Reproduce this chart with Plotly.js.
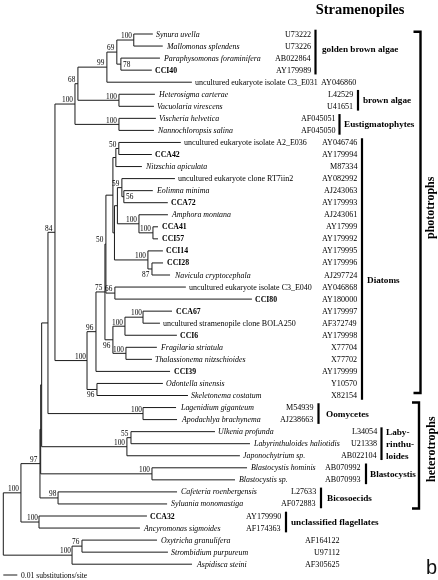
<!DOCTYPE html>
<html><head><meta charset="utf-8">
<script src="https://cdn.plot.ly/plotly-3.0.1.min.js"></script>
<style>html,body{margin:0;padding:0;background:#fff}#chart{width:438px;height:580px}
#chart svg.main-svg{will-change:transform}</style>
</head><body><div id="chart"></div>
<script>
// ---------------- DATA ----------------
const taxa = [
 'Synura uvella','Mallomonas splendens','Paraphysomonas foraminifera','CCI40',
 'uncultured eukaryote isolate C3_E031','Heterosigma carterae','Vacuolaria virescens',
 'Vischeria helvetica','Nannochloropsis salina','uncultured eukaryote isolate A2_E036',
 'CCA42','Nitzschia apiculata','uncultured eukaryote clone RT7iin2','Eolimna minima',
 'CCA72','Amphora montana','CCA41','CCI57','CCI14','CCI28','Navicula cryptocephala',
 'uncultured eukaryote isolate C3_E040','CCI80','CCA67','uncultured stramenopile clone BOLA250',
 'CCI6','Fragilaria striatula','Thalassionema nitzschioides','CCI39','Odontella sinensis',
 'Skeletonema costatum','Lagenidium giganteum','Apodachlya brachynema','Ulkenia profunda',
 'Labyrinthuloides haliotidis','Japonochytrium sp.','Blastocystis hominis','Blastocystis sp.',
 'Cafeteria roenbergensis','Syluania monomastiga','CCA32','Ancyromonas sigmoides',
 'Oxytricha granulifera','Strombidium purpureum','Aspidisca steini'
];
const accessions = [
 'U73222','U73226','AB022864','AY179989','AY046860','L42529','U41651','AF045051','AF045050',
 'AY046746','AY179994','M87334','AY082992','AJ243063','AY179993','AJ243061','AY17999',
 'AY179992','AY179995','AY179996','AJ297724','AY046868','AY180000','AY179997','AF372749',
 'AY179998','X77704','X77702','AY179999','Y10570','X82154','M54939','AJ238663','L34054',
 'U21338','AB022104','AB070992','AB070993','L27633','AF072883','AY179990','AF174363',
 'AF164122','U97112','AF305625'
];
// species = described species, clone = isolates of this study, env = environmental sequences
const taxonKind = [
 'species','species','species','clone','env','species','species','species','species','env',
 'clone','species','env','species','clone','species','clone','clone','clone','clone','species',
 'env','clone','clone','env','clone','species','species','clone','species','species','species',
 'species','species','species','species','species','species','species','species','clone',
 'species','species','species','species'
];
// leaves are indices into taxa; internal labels are bootstrap values; lengths in substitutions/site
const treeNewick = `(
 (
  (
   (
    (
     (
      (
       (
        (
         (
          ((0:0.0136,1:0.0207)100:0.0121,(2:0.0279,3:0.0221)78:0.0029)69:0.0071,
          4:0.0607
         )99:0.0207,
         (5:0.0257,6:0.0250)100:0.0293
        )68:0.0021,
        (7:0.0264,8:0.0250)100:0.0314
       )100:0.0143,
       (
        (
         (
          (
           (
            ((9:0.0443,10:0.0236)50:0.0021,11:0.0186):0.0021,
            (
             (
              (12:0.0379,(13:0.0207,14:0.0314)56:0.0014)59:0.0032,
              (15:0.0207,(16:0.0036,17:0.0036)100:0.0100)100:0.0154
             ):0.0021,
             (18:0.0107,(19:0.0079,20:0.0129)87:0.0029)100:0.0239
            ):0.0011
           ):0.0050,
           (21:0.0507,22:0.0979)66:0.0064
          )50:0.0007,
          (
           ((23:0.0207,24:0.0121)100:0.0129,25:0.0371)100:0.0086,
           (26:0.0221,27:0.0186)100:0.0093
          )96:0.0057
         )75:0.0064,
         28:0.0529
        )96:0.0064,
        (29:0.0471,30:0.0650)96:0.0071
       )100:0.0229
      )84:0.0050,
      (31:0.0236,32:0.0243)100:0.0679
     ):0.0045,
     ((33:0.0600,34:0.0850)55:0.0029,35:0.0807)100:0.0609
    ):0.0007,
    (36:0.0679,37:0.0593)100:0.0795
   ):0.0005,
   (38:0.0850,39:0.0779)98:0.0129
  )97:0.0136,
  (40:0.0771,41:0.0721)100:0.0129
 )100:0.0126,
 ((42:0.0536,43:0.0614)76:0.0071,44:0.0857)100:0.0491
);`;
const cladeNames = ['golden brown algae','brown algae','Eustigmatophytes','Diatoms','Oomycetes',
 'Laby-<br>rinthu-<br>loides','Blastocystis','Bicosoecids','unclassified flagellates'];
const trophicNames = ['phototrophs','heterotrophs'];
const chartTitle = 'Stramenopiles';
const scaleBarLength = 0.01;
const scaleBarLabel = '0.01 substitutions/site';
const panelLetter = 'b';

// ---------------- LAYOUT CONSTANTS ----------------
const W = 438, H = 580;
const PPU = 1400;      // pixels per substitution/site
const ROOT_PX = 3.3;   // pixel x of the root
const TOP_PX = 34;     // pixel y of first leaf
const ROW_PX = 12.05;  // pixel spacing of leaves
const xPx = px => (px - ROOT_PX) / PPU;
const yPx = py => (py - TOP_PX) / ROW_PX;
const dx = px => px / PPU;
const dy = py => py / ROW_PX;
const SERIF = 'Liberation Serif, Times New Roman, serif';
const FONT_SIZE = {species:7.9, clone:7.8, env:8.0, acc:8.1, support:7.3, clade:9.2};

// accession column (right edge px) and clade bracket per leaf range
const cladeLayout = [
 {first:0, last:3, acc:312, bar:315.5, name:0, lx:321, ly:1.25},
 {first:4, last:4, acc:357},
 {first:5, last:6, acc:354, bar:358, name:1, lx:362},
 {first:7, last:8, acc:336.5, bar:339.5, name:2, lx:343},
 {first:9, last:30, acc:358, bar:362, name:3, lx:366, ly:20.4},
 {first:31, last:32, acc:314, bar:318.5, name:4, lx:325},
 {first:33, last:35, acc:378, bar:381.5, name:5, lx:385},
 {first:36, last:37, acc:362, bar:366, name:6, lx:368.5},
 {first:38, last:39, acc:316.5, bar:321, name:7, lx:326},
 {first:40, last:41, acc:282, bar:286, name:8, lx:290},
 {first:42, last:44, acc:340.5}
];
// bootstrap label placement exceptions (keyed by first-last leaf)
const supportPlacement = {'2-3':'right','13-14':'right','19-20':'below','23-27':'below','29-30':'below'};

// ---------------- TREE ----------------
function parseNewick(str){
  const s = str.replace(/\s+/g,'');
  let i = 0;
  function node(){
    const n = {children:[]};
    if (s[i] === '('){
      i++;
      n.children.push(node());
      while (s[i] === ','){ i++; n.children.push(node()); }
      i++;
    }
    let lab = '';
    while (i < s.length && !':,();'.includes(s[i])) lab += s[i++];
    n.len = 0;
    if (s[i] === ':'){
      i++; let num = '';
      while (i < s.length && !',();'.includes(s[i])) num += s[i++];
      n.len = parseFloat(num);
    }
    if (n.children.length) n.support = lab; else n.leaf = parseInt(lab, 10);
    return n;
  }
  return node();
}
function place(n, x){
  n.x = x + n.len;
  if (n.children.length){
    n.children.forEach(c => place(c, n.x));
    const a = n.children[0], b = n.children[n.children.length-1];
    n.y = (a.y + b.y) / 2; n.first = a.first; n.last = b.last;
  } else { n.y = n.leaf; n.first = n.last = n.leaf; }
}
const root = parseNewick(treeNewick);
root.len = 0;
place(root, 0);

const lx = [], ly = [];
const annotations = [];
const leaves = [];
const INK = '#000';
function walk(n){
  if (!n.children.length){ leaves.push(n); return; }
  const a = n.children[0], b = n.children[n.children.length-1];
  lx.push(n.x, n.x, null); ly.push(a.y, b.y, null);
  n.children.forEach(c => { lx.push(n.x, c.x, null); ly.push(c.y, c.y, null); walk(c); });
  if (n.support){
    const pl = supportPlacement[n.first + '-' + n.last] || 'above';
    const ann = {text:n.support, showarrow:false, font:{family:SERIF, size:FONT_SIZE.support, color:INK},
      xref:'x', yref:'y', borderpad:0, yanchor:'middle'};
    if (pl === 'right'){ ann.x = n.x + dx(1.5); ann.xanchor = 'left'; ann.y = n.y; }
    else if (pl === 'below'){ ann.x = n.x - dx(0.5); ann.xanchor = 'right'; ann.y = n.y + dy(5.5); }
    else { ann.x = n.x - dx(0.5); ann.xanchor = 'right'; ann.y = n.y - dy(4.2); }
    annotations.push(ann);
  }
}
walk(root);

// leaf labels
leaves.forEach(n => {
  const k = taxonKind[n.leaf];
  let t = taxa[n.leaf];
  if (k === 'species') t = '<i>' + t + '</i>';
  else if (k === 'clone') t = '<b>' + t + '</b>';
  annotations.push({text:t, x:n.x + dx(2.5), y:n.y, xref:'x', yref:'y', xanchor:'left', yanchor:'middle',
    showarrow:false, borderpad:0, font:{family:SERIF, size:FONT_SIZE[k], color:INK}});
});
// accessions and clade brackets
const shapes = [];
cladeLayout.forEach(c => {
  for (let i = c.first; i <= c.last; i++){
    annotations.push({text:accessions[i], x:xPx(c.acc), y:i, xref:'x', yref:'y', xanchor:'right',
      yanchor:'middle', showarrow:false, borderpad:0, font:{family:SERIF, size:FONT_SIZE.acc, color:INK}});
  }
  if (c.bar !== undefined){
    shapes.push({type:'line', xref:'x', yref:'y', x0:xPx(c.bar), x1:xPx(c.bar),
      y0:c.first - dy(4.3), y1:c.last + dy(4.3), line:{color:'#000', width:2.2}});
    annotations.push({text:'<b>' + cladeNames[c.name] + '</b>', x:xPx(c.lx),
      y:c.ly !== undefined ? c.ly : (c.first + c.last)/2, xref:'x', yref:'y', xanchor:'left', yanchor:'middle',
      showarrow:false, borderpad:0, align:'left', font:{family:SERIF, size:FONT_SIZE.clade, color:'#000'}});
  }
});
// trophic brackets
function bracket(xp, y0, y1){
  const xa = xPx(xp), xb = xPx(xp - 7);
  shapes.push({type:'path', xref:'x', yref:'y',
    path:`M ${xb} ${y0} L ${xa} ${y0} L ${xa} ${y1} L ${xb} ${y1}`, line:{color:'#000', width:2.4}});
}
bracket(420.5, -dy(2.2), 30 - dy(2.5));
bracket(419, 31 - dy(5), 39 + dy(4.5));
annotations.push({text:'<b>' + trophicNames[0] + '</b>', x:xPx(430), y:yPx(208), xref:'x', yref:'y',
  textangle:-90, showarrow:false, borderpad:0, font:{family:SERIF, size:12, color:'#000'}});
annotations.push({text:'<b>' + trophicNames[1] + '</b>', x:xPx(431), y:yPx(449), xref:'x', yref:'y',
  textangle:-90, showarrow:false, borderpad:0, font:{family:SERIF, size:12, color:'#000'}});

// scale bar
const sbY = yPx(575);
annotations.push({text:scaleBarLabel, x:scaleBarLength + dx(3), y:sbY, xref:'x', yref:'y', xanchor:'left',
  yanchor:'middle', showarrow:false, borderpad:0, font:{family:SERIF, size:7.6, color:INK}});
annotations.push({text:panelLetter, x:xPx(431), y:yPx(567), xref:'x', yref:'y', xanchor:'center',
  yanchor:'middle', showarrow:false, borderpad:0, font:{family:'Liberation Sans, Arial, sans-serif', size:20, color:'#111'}});

const traces = [
  {type:'scatter', mode:'lines', x:lx, y:ly, line:{color:'#1a1a1a', width:1}, hoverinfo:'skip', showlegend:false},
  {type:'scatter', mode:'lines', x:[0, scaleBarLength], y:[sbY, sbY], line:{color:'#1a1a1a', width:1},
   hoverinfo:'skip', showlegend:false}
];
const layout = {
  width:W, height:H, margin:{l:0, r:0, t:0, b:0}, paper_bgcolor:'#fff', plot_bgcolor:'#fff',
  title:{text:'<b>' + chartTitle + '</b>', x:360/W, xanchor:'center', y:1 - 9/H, yanchor:'middle',
    font:{family:SERIF, size:14.5, color:'#000'}},
  xaxis:{range:[xPx(0), xPx(W)], visible:false, fixedrange:true},
  yaxis:{range:[yPx(H), yPx(0)], visible:false, fixedrange:true},
  shapes:shapes, annotations:annotations, showlegend:false
};
Plotly.newPlot('chart', traces, layout, {staticPlot:true, displayModeBar:false});
</script></body></html>
